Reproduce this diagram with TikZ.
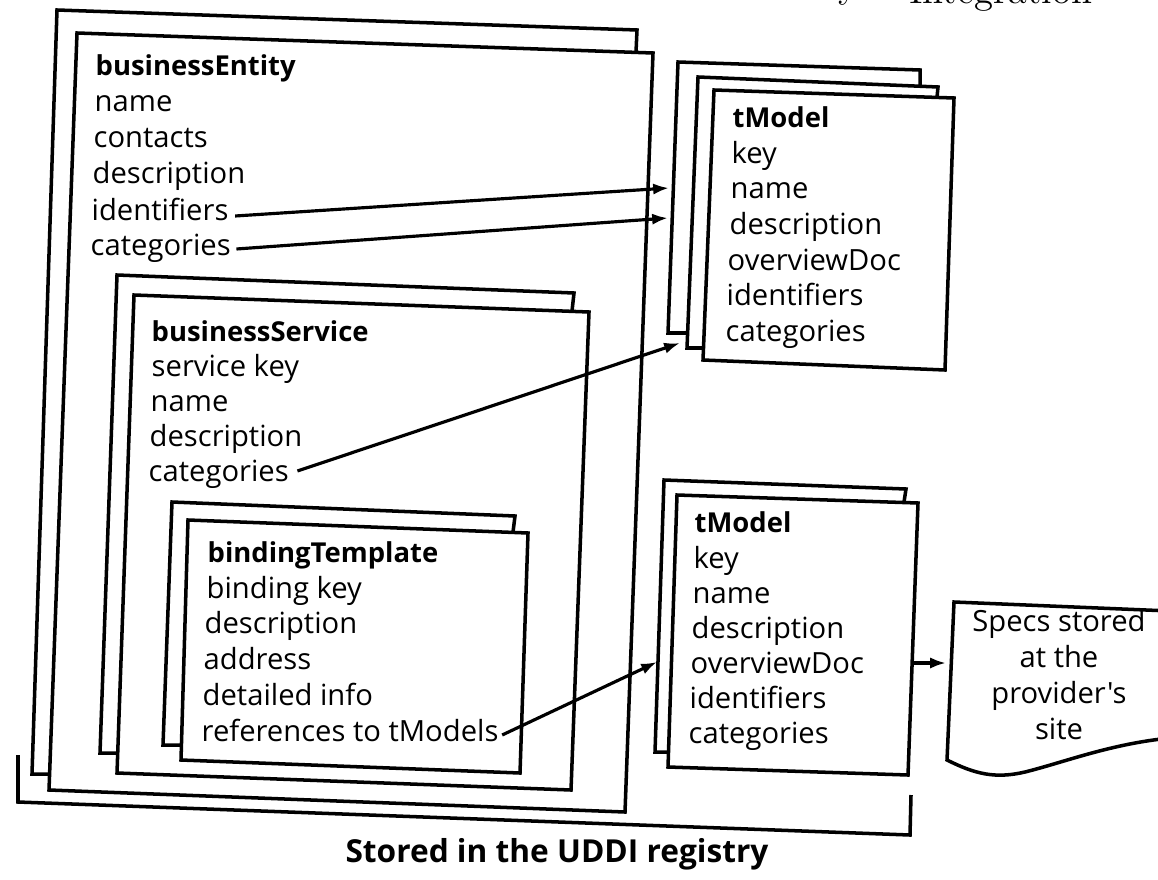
\documentclass[tikz,border=0pt]{standalone}
\usepackage{fontspec}
\newfontfamily\hand{Open Sans}
\usetikzlibrary{arrows.meta,calc}

\tikzset{
  sheet/.style={draw, line width=1pt, line join=miter},
  item/.style={anchor=base west, inner sep=0pt, font=\hand\fontsize{8.3}{10}\selectfont},
  head/.style={item, font=\hand\bfseries\fontsize{7.8}{10}\selectfont},
  doctext/.style={anchor=base, inner sep=0pt, font=\hand\fontsize{8.3}{10}\selectfont},
  link/.style={-{Latex[length=4.5pt,width=3.2pt]}, line width=0.9pt},
}

\begin{document}
\begin{tikzpicture}[x=0.01cm, y=-0.01cm]
\useasboundingbox (0,0) rectangle (1158,879);

% running header, mostly cut off at the top edge
\node[anchor=base east, inner sep=0pt, font=\fontsize{11}{12}\selectfont] (hdr) at (1093,4) {Integration};
\node[anchor=base, inner sep=0pt, font=\fontsize{11}{12}\selectfont] (hdry) at (848,-2) {y};

% ---------------- businessEntity (two sheets) ----------------
\draw[sheet] (636,52) -- (637,30) -- (57,10) -- (32,774) -- (50,774);
\draw[sheet] (77,33) -- (653,53) -- (625,812) -- (49,790) -- cycle;

\node[head] (beH)   at (95,76)  {businessEntity};
\node[item] (beN)   at (94,112) {name};
\node[item] (beC)   at (93,148) {contacts};
\node[item] (beD)   at (92,183) {description};
\node[item] (beId)  at (91,220) {identifiers};
\node[item] (beCat) at (90,255) {categories};

% ---------------- businessService (two sheets) ----------------
\draw[sheet] (572,311) -- (574,293) -- (117,275) -- (100,753) -- (118,753);
\draw[sheet] (134,295) -- (589,312) -- (571,790) -- (117,773) -- cycle;

\node[head] (bsH)   at (151,341) {businessService};
\node[item] (bsK)   at (151,376) {service key};
\node[item] (bsN)   at (150,411) {name};
\node[item] (bsD)   at (149,446) {description};
\node[item] (bsCat) at (148,481) {categories};

% ---------------- bindingTemplate (two sheets) ----------------
\draw[sheet] (513,532) -- (515,516) -- (172,502) -- (163,745) -- (181,745);
\draw[sheet] (188,520) -- (528,533) -- (520,773) -- (181,760) -- cycle;

\node[head] (btH)   at (207,562) {bindingTemplate};
\node[item] (btK)   at (206,598) {binding key};
\node[item] (btD)   at (204,633) {description};
\node[item] (btA)   at (203,669) {address};
\node[item] (btI)   at (202,705) {detailed info};
\node[item] (btR)   at (201,741) {references to tModels};

% ---------------- upper tModel stack (three sheets) ----------------
\draw[sheet] (920,86) -- (920,70) -- (678,62) -- (668,333) -- (687,333);
\draw[sheet] (937,97) -- (938,87) -- (698,77) -- (687,348) -- (703,348);
\draw[sheet] (714,90) -- (954,98) -- (945,370) -- (703,360) -- cycle;

\node[head] (tuH)   at (732,127) {tModel};
\node[item] (tuK)   at (731,163) {key};
\node[item] (tuN)   at (730,199) {name};
\node[item] (tuD)   at (729,234) {description};
\node[item] (tuO)   at (727,270) {overviewDoc};
\node[item] (tuI)   at (726,305) {identifiers};
\node[item] (tuCat) at (725,341) {categories};

% ---------------- lower tModel (two sheets) ----------------
\draw[sheet] (904,502) -- (906,489) -- (664,480) -- (655,752) -- (669,752);
\draw[sheet] (677,495) -- (918,503) -- (908,775) -- (668,767) -- cycle;

\node[head] (tlH)   at (694,532) {tModel};
\node[item] (tlK)   at (693,568) {key};
\node[item] (tlN)   at (692,603) {name};
\node[item] (tlD)   at (691,638) {description};
\node[item] (tlO)   at (690,673) {overviewDoc};
\node[item] (tlI)   at (689,708) {identifiers};
\node[item] (tlCat) at (688,743) {categories};

% ---------------- specification document ----------------
\draw[sheet] (1170,611) -- (954,602) -- (947,760)
  .. controls (975,774) and (995,779) .. (1025,772)
  .. controls (1065,762) and (1110,744) .. (1170,738);
\node[doctext] (sp1) at (1059,631) {Specs stored};
\node[doctext] (sp2) at (1059,667) {at the};
\node[doctext] (sp3) at (1059,703) {provider's};
\node[doctext] (sp4) at (1059,739) {site};

% ---------------- references ----------------
\coordinate (tipId)  at (669,188);
\coordinate (tipCat) at (668,218);
\coordinate (tipSvc) at (680,343);
\coordinate (tipRef) at (657,662);
\coordinate (tmOut)  at (912,663);
\coordinate (docIn)  at (946,663);

\draw[link] ($(beId.base east)+(6,-4)$)  -- (tipId);
\draw[link] ($(beCat.base east)+(5,-6)$) -- (tipCat);
\draw[link] ($(bsCat.base east)+(8,-10)$) -- (tipSvc);
\draw[link] ($(btR.base east)+(3,-6)$)   -- (tipRef);
\draw[link] (tmOut) -- (docIn);

% ---------------- registry bracket ----------------
\draw[sheet] (18,755) -- (18,802) -- (910,835) -- (911,795);
\node[anchor=base, inner sep=0pt, font=\hand\bfseries\fontsize{9}{11}\selectfont] (reg) at (557,862) {Stored in the UDDI registry};
\end{tikzpicture}
\end{document}
